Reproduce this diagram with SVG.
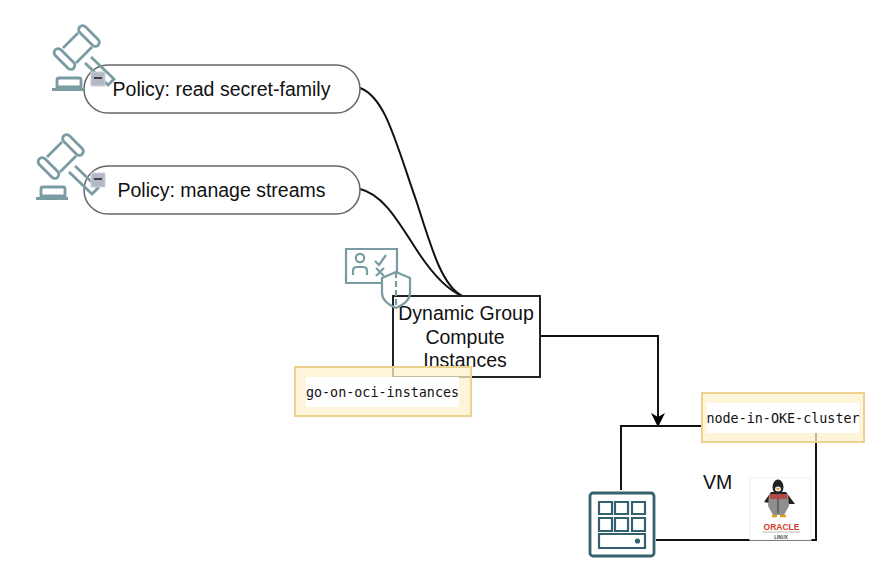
<svg xmlns="http://www.w3.org/2000/svg" width="887" height="571" viewBox="0 0 887 571">
<style>
text{font-family:"Liberation Sans",Arial,sans-serif;fill:#111;text-anchor:middle}
.lab{font-size:19.5px}
.mono{font-family:"DejaVu Sans Mono","Liberation Mono",monospace;font-size:13.4px}
.shape{fill:#fff;stroke:#666;stroke-width:1.5}
.line{fill:none;stroke:#111;stroke-width:2}
.ic{fill:none;stroke:#7b9ba3;stroke-width:2.2}
.gv{fill:none;stroke:#7b9ba3;stroke-width:2.800}
.yb{fill:#fdf0cc;fill-opacity:.75;stroke:#ecd28e;stroke-width:2}
</style>
<defs>
<g id="gavel">
<rect class="gv" x="76" y="32" width="26" height="8" rx="4" transform="rotate(45 89 36)"/>
<rect class="gv" x="51.500" y="55" width="26" height="8" rx="4" transform="rotate(45 64.500 59)"/>
<path class="gv" d="M78 33L63 48M92 47L76 63M91 57L114 79L108 85L85 63"/>
<path class="gv" d="M57 87V80Q57 78 59 78H79Q81 78 81 80V87ZM52 89.500H84"/>
</g>
<g id="minus"><rect width="14" height="14" fill="#b4b8c6" stroke="#cfd2dc"/><path d="M3 6H11" stroke="#222" stroke-width="1.6"/></g>
<marker id="arr" markerUnits="userSpaceOnUse" markerWidth="16" markerHeight="14" refX="13" refY="7" orient="auto"><path d="M0 0L14 7L0 14L4 7Z" fill="#000"/></marker>
</defs>
<rect width="887" height="571" fill="#fff"/>
<g id="connectors">
<path class="line" d="M360 88C385 97 395 140 417 203C432 250 442 285 462 296"/>
<path class="line" d="M360 189C385 195 400 225 420 255C435 277 448 290 462 296"/>
<path class="line" d="M540 336H658V426" marker-end="url(#arr)"/>
<path class="line" d="M702 426H621V490"/>
<path class="line" d="M656 540H816V433"/>
</g>
<g id="policy-read">
<rect class="shape" x="84" y="65" width="276" height="48" rx="24"/>
<text class="lab" x="221.500" y="96">Policy: read secret-family</text>
<use href="#gavel"/><use href="#minus" x="91" y="72"/>
</g>
<g id="policy-manage">
<rect class="shape" x="84" y="166" width="276" height="48" rx="24"/>
<text class="lab" x="221.500" y="197">Policy: manage streams</text>
<use href="#gavel" x="-16" y="109"/><use href="#minus" x="91" y="173"/>
</g>
<g id="dynamic-group">
<rect x="393" y="296" width="147" height="81" fill="#fff" stroke="#222" stroke-width="2"/>
<text class="lab" x="466" y="319.500">Dynamic Group</text>
<text class="lab" x="465" y="343.500">Compute</text>
<text class="lab" x="465" y="367">Instances</text>
<path class="ic" d="M383 283H346V249H397V272"/>
<circle class="ic" cx="360" cy="258" r="4.200"/>
<path class="ic" d="M353 275V271Q353 267 357 267H363Q367 267 367 271V275M375 261L379 265L386 255M376 268L384 276M384 268L376 276"/>
<path class="ic" d="M396 272L410 278V293Q410 302 396 308Q382 302 382 293V278Z"/>
<path class="ic" stroke-dasharray="6 3" d="M396 272V308"/>
</g>
<g id="go-on-oci-instances">
<rect class="yb" x="295" y="367" width="176" height="49"/>
<rect x="306" y="377" width="153" height="30" fill="#fff"/>
<text class="mono" x="382.500" y="397">go-on-oci-instances</text>
</g>
<g id="vm">
<text class="lab" x="717.500" y="489">VM</text>
</g>
<g id="node-in-oke-cluster">
<rect class="yb" x="702" y="393" width="162" height="49"/>
<rect x="707" y="403" width="152" height="30" fill="#fff"/>
<text class="mono" x="783" y="423">node-in-OKE-cluster</text>
</g>
<g id="compute-icon" fill="none" stroke="#35606f" stroke-width="2.200">
<rect x="590" y="493" width="64" height="63" rx="3" stroke-width="2.800"/>
<path d="M599 502h13v12h-13zM615 502h13v12h-13zM632 502h13v12h-13zM599 518h13v13h-13zM615 518h13v13h-13zM632 518h13v13h-13zM599 534h46v14h-46z"/>
<circle cx="637.500" cy="541" r="1.500" fill="#35606f"/>
</g>
<g id="oracle-linux">
<rect x="750" y="478" width="61" height="62" fill="#fff" stroke="#eee"/>
<path d="M764 502L771 492L786 492L795 504L789 504L785 498H771L769 503Z" fill="#222"/>
<path d="M769 494H788L789 506L784 515H773L768 506Z" fill="#8e8e8e"/>
<ellipse cx="778" cy="487" rx="5.500" ry="7.500" fill="#222"/>
<ellipse cx="778" cy="489" rx="3" ry="2.500" fill="#eee"/>
<path d="M776 488H780L778 490.500Z" fill="#e0a020"/>
<rect x="770" y="494" width="17" height="5" fill="#b44848"/>
<path d="M778 499V513" stroke="#555" stroke-width="1.500"/>
<path d="M772 516H777M780 516H786" stroke="#d9a020" stroke-width="2.500"/>
<text x="781.500" y="530" style="font-size:8.500px;font-weight:700;fill:#d43c2c">ORACLE</text>
<path d="M763 532H800" stroke="#bbb"/>
<text x="781" y="538.500" style="font-size:4.500px;font-weight:700;fill:#444">LINUX</text>
</g>
</svg>
